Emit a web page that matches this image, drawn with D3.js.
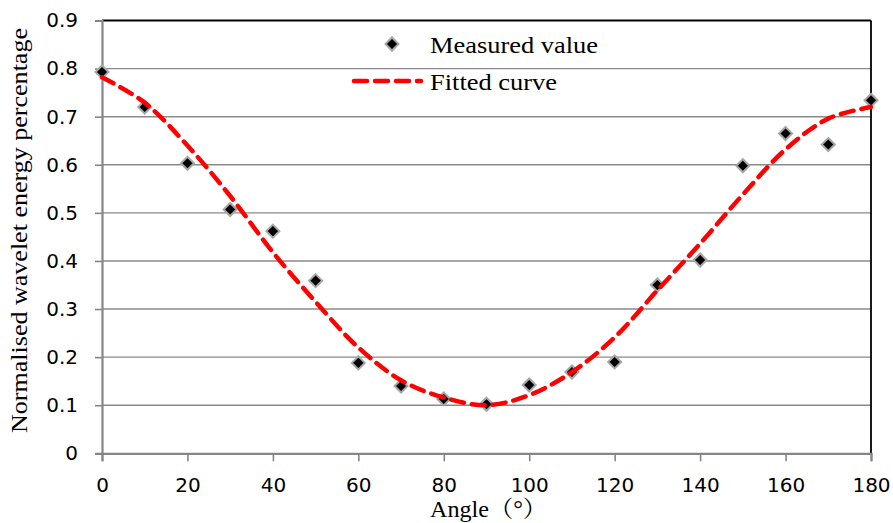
<!DOCTYPE html>
<html>
<head>
<meta charset="utf-8">
<script src="https://cdn.jsdelivr.net/npm/d3@7"></script>
<style>
  html, body { margin: 0; padding: 0; background: #fff; }
  svg { display: block; }
</style>
</head>
<body>
<div id="chart"></div>
<script>
// ---- data ----
const angles = [0, 10, 20, 30, 40, 50, 60, 70, 80, 90, 100, 110, 120, 130, 140, 150, 160, 170, 180];
const measured = [0.793, 0.720, 0.603, 0.507, 0.462, 0.359, 0.188, 0.140, 0.113, 0.102, 0.142, 0.169, 0.190, 0.350, 0.402, 0.598, 0.665, 0.642, 0.734];
const fitted = [0.782, 0.729, 0.640, 0.535, 0.418, 0.315, 0.220, 0.152, 0.116, 0.100, 0.121, 0.169, 0.241, 0.339, 0.436, 0.538, 0.632, 0.696, 0.720];
const xTicks = [0, 20, 40, 60, 80, 100, 120, 140, 160, 180];
const yTicks = [0, 0.1, 0.2, 0.3, 0.4, 0.5, 0.6, 0.7, 0.8, 0.9];
const seriesNames = ["Measured value", "Fitted curve"];
const xTitle = "Angle（°）";
const yTitle = "Normalised wavelet energy percentage";

(function () {
// ---- layout ----
const W = 893, H = 523;
const pLeft = 102, pRight = 871, pTop = 20.5, pBottom = 453.3;

const svg = d3.select("#chart").append("svg").attr("width", W).attr("height", H);

const x = d3.scaleLinear().domain([0, 180]).range([pLeft, pRight]);
const y = d3.scaleLinear().domain([0, 0.9]).range([pBottom, pTop]);

const tickFont = "'DejaVu Sans', 'Liberation Sans', sans-serif";
const serifFont = "'Liberation Serif', 'Times New Roman', 'Noto Serif CJK SC', 'Noto Sans CJK SC', serif";

// gridlines
svg.append("g").selectAll("line")
  .data(yTicks.filter(v => v > 0 && v < 0.9))
  .join("line")
  .attr("x1", pLeft).attr("x2", pRight)
  .attr("y1", d => y(d)).attr("y2", d => y(d))
  .attr("stroke", "#8a8a8a").attr("stroke-width", 1.4);

// top and right borders (black)
svg.append("line").attr("x1", pLeft).attr("x2", pRight).attr("y1", pTop).attr("y2", pTop)
  .attr("stroke", "#000").attr("stroke-width", 1.8);
svg.append("line").attr("x1", pRight).attr("x2", pRight).attr("y1", pTop).attr("y2", pBottom)
  .attr("stroke", "#000").attr("stroke-width", 1.8);

// y axis
const yAxis = svg.append("g").attr("transform", `translate(${pLeft},0)`)
  .call(d3.axisLeft(y).tickValues(yTicks).tickFormat(d => d === 0 ? "0" : d3.format(".1f")(d))
    .tickSize(7).tickPadding(17));
yAxis.select(".domain").attr("stroke", "#868686").attr("stroke-width", 2.2);
yAxis.selectAll(".tick line").attr("stroke", "#868686").attr("stroke-width", 1.6);
yAxis.selectAll(".tick text").attr("font-family", tickFont).attr("font-size", 20).attr("fill", "#000");

// x axis
const xAxis = svg.append("g").attr("transform", `translate(0,${pBottom})`)
  .call(d3.axisBottom(x).tickValues(xTicks).tickFormat(d3.format("d")).tickSize(8).tickPadding(16.5));
xAxis.select(".domain").attr("stroke", "#868686").attr("stroke-width", 2.2);
xAxis.selectAll(".tick line").attr("stroke", "#868686").attr("stroke-width", 1.6);
xAxis.selectAll(".tick text").attr("font-family", tickFont).attr("font-size", 20).attr("fill", "#000");

// markers (diamond)
const dHalf = 6.5;
const diamond = `M0,${-dHalf}L${dHalf},0L0,${dHalf}L${-dHalf},0Z`;
svg.append("g").selectAll("path")
  .data(angles.map((a, i) => [a, measured[i]]))
  .join("path")
  .attr("d", diamond)
  .attr("transform", d => `translate(${x(d[0])},${y(d[1])})`)
  .attr("fill", "#000").attr("stroke", "#a6a6a6").attr("stroke-width", 2);

// fitted curve
const line = d3.line().x(d => x(d[0])).y(d => y(d[1])).curve(d3.curveCatmullRom.alpha(0.5));
svg.append("path")
  .datum(angles.map((a, i) => [a, fitted[i]]))
  .attr("d", line)
  .attr("fill", "none").attr("stroke", "#ff0000").attr("stroke-width", 4.5)
  .attr("stroke-dasharray", "13,8").attr("stroke-linecap", "round");

// legend
svg.append("path").attr("d", diamond).attr("transform", "translate(392,44)")
  .attr("fill", "#000").attr("stroke", "#a6a6a6").attr("stroke-width", 2);
svg.append("line").attr("x1", 354).attr("x2", 421).attr("y1", 81).attr("y2", 81)
  .attr("stroke", "#ff0000").attr("stroke-width", 4.5)
  .attr("stroke-dasharray", "13,8").attr("stroke-linecap", "round");
svg.append("text").attr("x", 430).attr("y", 53).text(seriesNames[0])
  .attr("font-family", serifFont).attr("font-size", 23)
  .attr("textLength", 168).attr("lengthAdjust", "spacingAndGlyphs");
svg.append("text").attr("x", 430).attr("y", 90).text(seriesNames[1])
  .attr("font-family", serifFont).attr("font-size", 23)
  .attr("textLength", 127).attr("lengthAdjust", "spacingAndGlyphs");

// axis titles
svg.append("text").attr("x", 430).attr("y", 517).text(xTitle)
  .attr("font-family", serifFont).attr("font-size", 23)
  .attr("textLength", 117).attr("lengthAdjust", "spacingAndGlyphs");
svg.append("text")
  .attr("transform", "translate(27,230.5) rotate(-90)")
  .attr("text-anchor", "middle")
  .text(yTitle)
  .attr("font-family", serifFont).attr("font-size", 23)
  .attr("textLength", 405).attr("lengthAdjust", "spacingAndGlyphs");
})();
</script>
</body>
</html>
